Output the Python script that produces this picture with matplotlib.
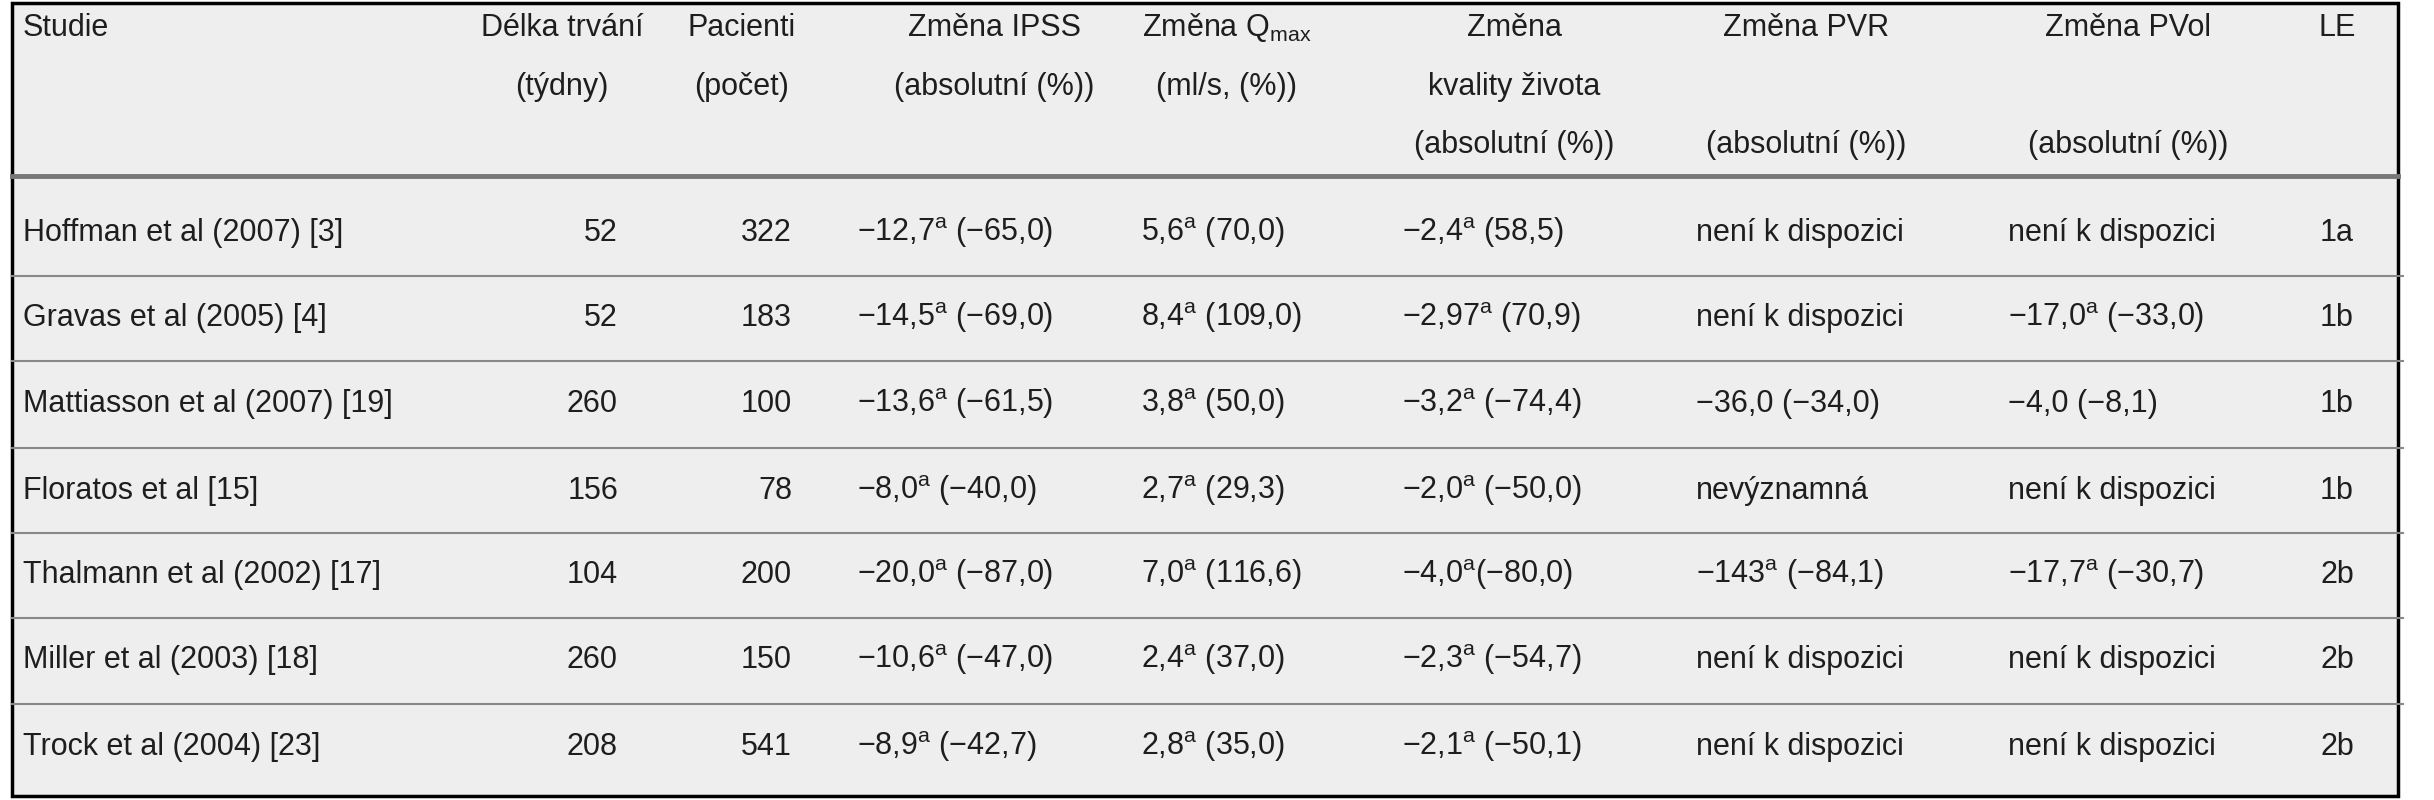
import matplotlib
matplotlib.use("Agg")
import matplotlib.pyplot as plt
from matplotlib.patches import Rectangle

FAM = ['Liberation Sans Narrow', 'Liberation Sans', 'DejaVu Sans']
plt.rcParams['font.family'] = FAM
plt.rcParams['mathtext.fontset'] = 'custom'
plt.rcParams['mathtext.rm'] = 'Liberation Sans'
plt.rcParams['mathtext.it'] = 'Liberation Sans'

headers = [
    ["Studie"],
    ["Délka trvání", "(týdny)"],
    ["Pacienti", "(počet)"],
    ["Změna IPSS", "(absolutní (%))"],
    ["Změna Q$_{\\mathrm{max}}$", "(ml/s, (%))"],
    ["Změna", "kvality života", "(absolutní (%))"],
    ["Změna PVR", "", "(absolutní (%))"],
    ["Změna PVol", "", "(absolutní (%))"],
    ["LE"],
]
studies = ["Hoffman et al (2007) [3]", "Gravas et al (2005) [4]", "Mattiasson et al (2007) [19]",
           "Floratos et al [15]", "Thalmann et al (2002) [17]", "Miller et al (2003) [18]",
           "Trock et al (2004) [23]"]
weeks = [52, 52, 260, 156, 104, 260, 208]
patients = [322, 183, 100, 78, 200, 150, 541]
A = "$^{\\mathrm{a}}$"
ipss = [f"−12,7{A} (−65,0)", f"−14,5{A} (−69,0)", f"−13,6{A} (−61,5)", f"−8,0{A} (−40,0)",
        f"−20,0{A} (−87,0)", f"−10,6{A} (−47,0)", f"−8,9{A} (−42,7)"]
qmax = [f"5,6{A} (70,0)", f"8,4{A} (109,0)", f"3,8{A} (50,0)", f"2,7{A} (29,3)",
        f"7,0{A} (116,6)", f"2,4{A} (37,0)", f"2,8{A} (35,0)"]
qol = [f"−2,4{A} (58,5)", f"−2,97{A} (70,9)", f"−3,2{A} (−74,4)", f"−2,0{A} (−50,0)",
       f"−4,0{A}(−80,0)", f"−2,3{A} (−54,7)", f"−2,1{A} (−50,1)"]
pvr = ["není k dispozici", "není k dispozici", "−36,0 (−34,0)", "nevýznamná",
       f"−143{A} (−84,1)", "není k dispozici", "není k dispozici"]
pvol = ["není k dispozici", f"−17,0{A} (−33,0)", "−4,0 (−8,1)", "není k dispozici",
        f"−17,7{A} (−30,7)", "není k dispozici", "není k dispozici"]
le = ["1a", "1b", "1b", "1b", "2b", "2b", "2b"]

fig = plt.figure(figsize=(24.34, 8.0), dpi=100)
ax = fig.add_axes([0, 0, 1, 1])
ax.set_xlim(0, 2434)
ax.set_ylim(800, 0)
ax.axis('off')

L, R, T, B = 12, 2398, 3, 796
ax.add_patch(Rectangle((L, T), R - L, B - T, facecolor='#eeeeee', edgecolor='black', lw=2.5, zorder=0))

FS = 22
col = '#1e1e1e'
hx = [(23, 'left'), (562, 'center'), (742, 'center'), (994, 'center'), (1227, 'center'),
      (1514, 'center'), (1806, 'center'), (2128, 'center'), (2337, 'center')]
hy = [28, 87, 145]
for (x, ha), lines in zip(hx, headers):
    for i, t in enumerate(lines):
        if t:
            ax.text(x, hy[i], t, ha=ha, va='center', fontsize=FS, color=col)

ax.plot([L, R], [176, 176], color='#777777', lw=3.5, zorder=2)
rows_y = [233, 318, 404, 491, 575, 660, 747]
for i in range(len(rows_y) - 1):
    y = (rows_y[i] + rows_y[i + 1]) / 2
    ax.plot([L, R + 5], [y, y], color='#888888', lw=1.5, zorder=2)

for i, y in enumerate(rows_y):
    ax.text(23, y, studies[i], ha='left', va='center', fontsize=FS, color=col)
    ax.text(618, y, str(weeks[i]), ha='right', va='center', fontsize=FS, color=col)
    ax.text(792, y, str(patients[i]), ha='right', va='center', fontsize=FS, color=col)
    ax.text(857, y, ipss[i], ha='left', va='center', fontsize=FS, color=col)
    ax.text(1141, y, qmax[i], ha='left', va='center', fontsize=FS, color=col)
    ax.text(1402, y, qol[i], ha='left', va='center', fontsize=FS, color=col)
    ax.text(1696, y, pvr[i], ha='left', va='center', fontsize=FS, color=col)
    ax.text(2008, y, pvol[i], ha='left', va='center', fontsize=FS, color=col)
    ax.text(2337, y, le[i], ha='center', va='center', fontsize=FS, color=col)

fig.savefig("out.png", dpi=100, facecolor='white')
